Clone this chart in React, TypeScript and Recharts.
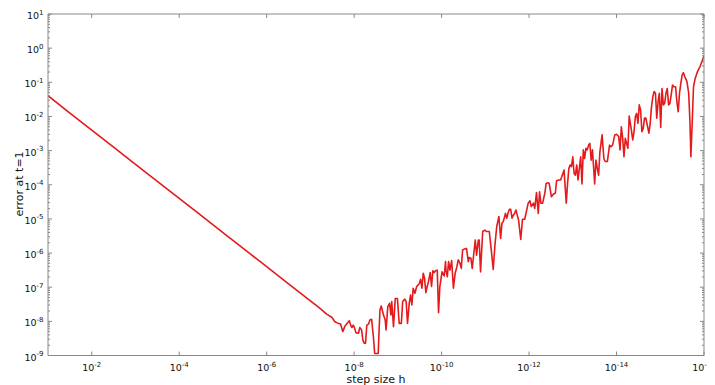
import React from 'react';
import { LineChart, Line, XAxis, YAxis, Label } from 'recharts';

// values, stored as log10 exponents
const logStep = [
  -1, -1.5, -2, -2.5, -3, -3.5, -4, -4.5, -5, -5.5, -6, -6.5, -7,
  -7.22, -7.37, -7.49, -7.56, -7.64, -7.69, -7.74, -7.79, -7.85, -7.89,
  -7.92, -7.95, -7.98, -8.01, -8.04, -8.1, -8.13, -8.17, -8.2, -8.23,
  -8.26, -8.29, -8.33, -8.36, -8.4, -8.44, -8.47, -8.52, -8.55, -8.59,
  -8.62, -8.67, -8.71, -8.73, -8.77, -8.81, -8.84, -8.86, -8.9, -8.94,
  -8.99, -9.03, -9.08, -9.11, -9.16, -9.19, -9.22, -9.26, -9.29, -9.32,
  -9.35, -9.39, -9.43, -9.46, -9.49, -9.52, -9.55, -9.58, -9.61, -9.64,
  -9.67, -9.7, -9.74, -9.77, -9.8, -9.83, -9.86, -9.9, -9.93, -9.96,
  -10.01, -10.06, -10.09,
  -10.1, -10.13, -10.16, -10.19, -10.23, -10.27, -10.31, -10.35, -10.38,
  -10.42, -10.45, -10.48, -10.54, -10.57, -10.61, -10.63, -10.67, -10.7,
  -10.73, -10.77, -10.8, -10.84, -10.86, -10.89, -10.94, -10.99, -11.03,
  -11.09, -11.14, -11.18, -11.22, -11.26, -11.31, -11.35, -11.38, -11.41,
  -11.46, -11.49, -11.52, -11.55, -11.58, -11.61, -11.64, -11.67, -11.7,
  -11.73, -11.76, -11.81, -11.85, -11.9, -11.95, -11.98, -12.02, -12.05,
  -12.1, -12.13, -12.17, -12.21, -12.24, -12.27, -12.31, -12.36, -12.39,
  -12.43, -12.46, -12.51, -12.56, -12.6, -12.63, -12.68, -12.72, -12.75,
  -12.8,
  -12.85, -12.88, -12.91, -12.94, -12.97, -13.0, -13.03, -13.06, -13.09,
  -13.12, -13.15, -13.18, -13.21, -13.24, -13.27, -13.3, -13.33, -13.36,
  -13.39, -13.42, -13.45, -13.5, -13.53, -13.56, -13.59, -13.62, -13.67,
  -13.71, -13.74, -13.79, -13.84, -13.87, -13.91, -13.96, -14.0, -14.05,
  -14.08, -14.11, -14.14, -14.17, -14.2, -14.23, -14.26, -14.29,
  -14.34, -14.37, -14.4, -14.43, -14.46, -14.49, -14.52, -14.55, -14.58,
  -14.61, -14.64, -14.67, -14.71, -14.74, -14.77, -14.8, -14.83, -14.86,
  -14.89, -14.92, -14.95, -14.98, -15.01, -15.04, -15.07, -15.1, -15.13,
  -15.16, -15.19, -15.22, -15.25, -15.28, -15.31, -15.35, -15.38, -15.41,
  -15.44, -15.47, -15.5, -15.53, -15.56, -15.61, -15.65, -15.68, -15.7,
  -15.73, -15.76, -15.8, -15.85, -15.91, -15.96, -16.0,
];

const logError = [
  -1.39, -1.9, -2.4, -2.9, -3.4, -3.9, -4.4, -4.9, -5.4, -5.9, -6.4, -6.9, -7.4,
  -7.62, -7.79, -7.88, -8.01, -8.06, -8.08, -8.3, -8.14, -8.04, -7.98,
  -8.11, -8.18, -8.11, -8.19, -8.33, -8.35, -8.18, -8.25, -8.55, -8.64,
  -8.64, -8.11, -8.08, -7.96, -7.94, -8.45, -8.94, -8.94, -8.94, -7.67,
  -7.55, -7.81, -7.96, -8.25, -7.57, -7.47, -7.81, -7.42, -8.16, -7.33,
  -7.33, -8.06, -8.06, -7.42, -7.35, -7.42, -8.06, -7.47, -7.23, -7.52,
  -7.03, -7.18, -6.98, -6.94, -6.89, -6.77, -7.03, -6.59, -6.74, -7.16,
  -6.98, -6.84, -6.57, -6.98, -6.52, -6.57, -6.52, -6.5, -7.75, -6.98,
  -6.55, -6.67, -6.25,
  -6.5, -6.69, -6.25, -6.5, -6.22, -7.03, -6.59, -6.4, -6.2,
  -6.3, -6.45, -5.91, -5.87, -5.87, -6.25, -6.13, -6.15, -6.45,
  -6.09, -5.62, -6.06, -5.62, -5.62, -6.55, -5.37, -5.33, -5.37,
  -5.37, -5.96, -6.48, -5.76, -5.23, -4.93, -5.57, -5.13, -5.08,
  -4.84, -4.98, -4.82, -4.72, -4.72, -4.98, -4.89, -4.84, -4.74,
  -4.89, -5.03, -5.6, -5.01, -5.01, -4.72, -4.54, -4.47, -4.64,
  -4.54, -4.69, -4.23, -4.84, -4.21, -4.54, -4.54, -4.25, -3.96,
  -3.94, -3.96, -4.35, -4.27, -4.25, -3.88, -3.86, -3.86, -3.76,
  -3.57,
  -4.54, -3.96, -3.52, -3.42, -3.47, -3.18, -3.67, -3.72, -3.42,
  -3.86, -3.52, -3.18, -3.98, -2.98, -3.23, -2.93, -2.98, -2.84,
  -2.79, -3.28, -2.98, -3.98, -3.28, -3.52, -3.72, -3.03, -2.54,
  -3.23, -3.32, -3.32, -2.84, -2.89, -2.84, -2.54, -2.52, -2.59,
  -2.98, -2.3, -2.64, -3.18, -2.64, -2.79, -2.93, -1.99,
  -2.4, -2.69, -2.45, -2.01, -1.91, -2.2, -1.66, -1.81, -2.45,
  -2.35, -2.05, -2.05, -2.3, -2.49, -2.2, -1.71, -1.42, -1.27,
  -1.32, -2.05, -1.57, -1.32, -2.32, -1.18, -1.66, -1.62, -1.32,
  -1.18, -1.66, -1.62, -1.37, -1.08, -1.13, -1.13, -1.57, -1.86,
  -1.32, -1.03, -0.79, -0.72, -0.83, -0.98, -1.32, -2.2, -3.18,
  -2.2, -1.13, -0.88, -0.69, -0.54, -0.37, -0.23,
];

const xTickExps = [-2, -4, -6, -8, -10, -12, -14, -16];
const yTickExps = [-9, -8, -7, -6, -5, -4, -3, -2, -1, 0, 1];
const minorSteps = [2, 3, 4, 5, 6, 7, 8, 9];

const data = logStep.map((s, i) => ({ h: Math.pow(10, s), err: Math.pow(10, logError[i]) }));

const xTicks = xTickExps.map(e => Math.pow(10, e));
const yTicks: number[] = [];
yTickExps.forEach(e => {
  yTicks.push(Math.pow(10, e));
  if (e < 1) minorSteps.forEach(m => yTicks.push(m * Math.pow(10, e)));
});

const AXIS = '#888888';
const FONT = 'DejaVu Sans';

const decade = (v: number) => {
  const lg = Math.log10(v);
  const e = Math.round(lg);
  return { e, major: Math.abs(lg - e) < 1e-6 };
};

const expText = (e: number) => (e < 0 ? '-' + -e : String(e));

const PowerLabel = ({ x, y, e, anchor }: any) => (
  <text x={x} y={y} textAnchor={anchor} fontSize={9.5} fontFamily={FONT} fill="#111">
    10<tspan dy={-4.5} fontSize={7}>{expText(e)}</tspan>
  </text>
);

const BottomTick = ({ x, y, payload }: any) => {
  const { e } = decade(payload.value);
  return (
    <g>
      <line x1={x} x2={x} y1={y} y2={y - 4} stroke={AXIS} />
      <PowerLabel x={x} y={y + 15.5} e={e} anchor="middle" />
    </g>
  );
};

const TopTick = ({ x, y }: any) => <line x1={x} x2={x} y1={y} y2={y + 4} stroke={AXIS} />;

const LeftTick = ({ x, y, payload }: any) => {
  const { e, major } = decade(payload.value);
  return (
    <g>
      <line x1={x} x2={x + (major ? 4 : 2)} y1={y} y2={y} stroke={AXIS} />
      {major && <PowerLabel x={x - 4.5} y={y + 5} e={e} anchor="end" />}
    </g>
  );
};

const RightTick = ({ x, y, payload }: any) => {
  const { major } = decade(payload.value);
  return <line x1={x} x2={x - (major ? 4 : 2)} y1={y} y2={y} stroke={AXIS} />;
};

export default function App() {
  return (
    <LineChart width={707} height={377} data={data} margin={{ top: 5, right: 10, bottom: 0, left: 0 }}>
      <XAxis
        xAxisId="bottom"
        dataKey="h"
        type="number"
        scale="log"
        domain={[1e-16, 0.1]}
        allowDataOverflow
        reversed
        ticks={xTicks}
        interval={0}
        height={29.5}
        tickSize={0}
        tickMargin={0}
        tickLine={false}
        tick={<BottomTick />}
        axisLine={{ stroke: AXIS }}
      >
        <Label
          content={() => (
            <text x={368} y={375.4} textAnchor="middle" fontSize={11} fontFamily={FONT} fill="#111">
              step size h
            </text>
          )}
        />
      </XAxis>
      <XAxis
        xAxisId="top"
        orientation="top"
        dataKey="h"
        type="number"
        scale="log"
        domain={[1e-16, 0.1]}
        allowDataOverflow
        reversed
        ticks={xTicks}
        interval={0}
        height={1}
        tickSize={0}
        tickMargin={0}
        tickLine={false}
        tick={<TopTick />}
        axisLine={{ stroke: AXIS }}
      />
      <YAxis
        yAxisId="left"
        type="number"
        scale="log"
        domain={[1e-9, 10]}
        allowDataOverflow
        ticks={yTicks}
        interval={0}
        width={40}
        tickSize={0}
        tickMargin={0}
        tickLine={false}
        tick={<LeftTick />}
        axisLine={{ stroke: AXIS }}
      >
        <Label
          content={() => (
            <text
              x={14.5}
              y={176}
              textAnchor="middle"
              fontSize={11}
              fontFamily={FONT}
              fill="#111"
              transform="rotate(-90, 14.5, 176)"
            >
              error at t=1
            </text>
          )}
        />
      </YAxis>
      <YAxis
        yAxisId="right"
        orientation="right"
        type="number"
        scale="log"
        domain={[1e-9, 10]}
        allowDataOverflow
        ticks={yTicks}
        interval={0}
        width={1}
        tickSize={0}
        tickMargin={0}
        tickLine={false}
        tick={<RightTick />}
        axisLine={{ stroke: AXIS }}
      />
      <Line
        xAxisId="top"
        yAxisId="right"
        dataKey="err"
        stroke="none"
        dot={false}
        activeDot={false}
        isAnimationActive={false}
      />
      <Line
        xAxisId="bottom"
        yAxisId="left"
        type="linear"
        dataKey="err"
        stroke="#e41a1c"
        strokeWidth={1.6}
        strokeLinejoin="round"
        dot={false}
        activeDot={false}
        isAnimationActive={false}
      />
    </LineChart>
  );
}
